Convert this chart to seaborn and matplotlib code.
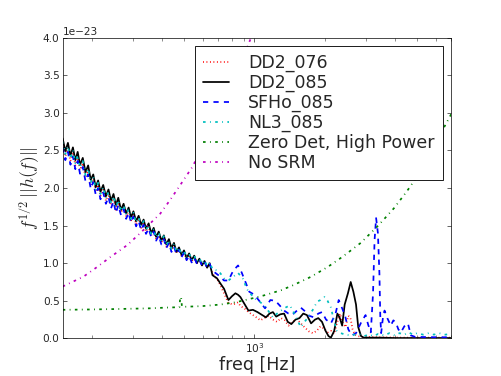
import numpy as np
import seaborn as sns
import matplotlib.pyplot as plt

# shared low-frequency grid (Hz) where all four waveforms overlap
f_low = [150, 154, 158, 162, 166, 170, 174, 178, 183, 188, 193, 198, 203, 208, 213, 218,
         224, 230, 236, 242, 248, 254, 260, 267, 274, 281, 288, 295, 302, 310, 318, 326,
         334, 342, 351, 360, 369, 378, 388, 398, 408, 418, 429, 440, 451, 462, 474, 486,
         498, 511, 524, 537, 551, 565, 580, 595, 610, 626, 642]

dd2_076_low = [2.59, 2.42, 2.53, 2.36, 2.47, 2.30, 2.41, 2.24, 2.33, 2.14, 2.23, 2.04,
               2.12, 1.95, 2.04, 1.89, 1.98, 1.83, 1.92, 1.77, 1.86, 1.71, 1.81,
               1.67, 1.75, 1.62, 1.70, 1.57, 1.65, 1.52, 1.59, 1.47, 1.54, 1.42, 1.49,
               1.37, 1.44, 1.32, 1.39, 1.27, 1.34, 1.22, 1.29, 1.17, 1.24,
               1.13, 1.19, 1.09, 1.15, 1.05, 1.11, 1.02, 1.08,
               1.00, 1.05, 0.97, 1.02, 0.94, 0.99]
dd2_085_low = [2.66, 2.49, 2.60, 2.43, 2.54, 2.37, 2.48, 2.31, 2.40, 2.21, 2.30, 2.11,
               2.18, 2.01, 2.10, 1.95, 2.04, 1.89, 1.98, 1.83, 1.92, 1.77, 1.87,
               1.71, 1.79, 1.66, 1.74, 1.61, 1.69, 1.56, 1.63, 1.51, 1.58, 1.46, 1.53,
               1.40, 1.47, 1.35, 1.42, 1.30, 1.37, 1.25, 1.32, 1.20, 1.27,
               1.15, 1.21, 1.11, 1.17, 1.07, 1.13, 1.04, 1.10,
               1.00, 1.06, 0.97, 1.03, 0.94, 1.00]
sfho_085_low = [2.54, 2.37, 2.48, 2.31, 2.42, 2.25, 2.36, 2.19, 2.28, 2.09, 2.18, 1.99,
                2.08, 1.91, 2.00, 1.85, 1.94, 1.79, 1.88, 1.73, 1.82, 1.67, 1.77,
                1.64, 1.72, 1.59, 1.67, 1.54, 1.62, 1.49, 1.56, 1.44, 1.51, 1.39, 1.46,
                1.35, 1.42, 1.30, 1.37, 1.25, 1.32, 1.20, 1.27, 1.15, 1.22,
                1.12, 1.18, 1.08, 1.14, 1.04, 1.10, 1.01, 1.07,
                1.00, 1.05, 0.97, 1.02, 0.94, 0.99]
nl3_085_low = [2.62, 2.45, 2.56, 2.39, 2.50, 2.33, 2.44, 2.27, 2.36, 2.17, 2.26, 2.07,
               2.15, 1.98, 2.07, 1.92, 2.01, 1.86, 1.95, 1.80, 1.89, 1.74, 1.84,
               1.69, 1.77, 1.64, 1.72, 1.59, 1.67, 1.54, 1.61, 1.49, 1.56, 1.44, 1.51,
               1.39, 1.46, 1.34, 1.41, 1.29, 1.36, 1.24, 1.31, 1.19, 1.26,
               1.15, 1.21, 1.11, 1.17, 1.07, 1.13, 1.04, 1.10,
               1.02, 1.07, 0.99, 1.04, 0.96, 1.01]

# higher frequencies, each waveform on its own grid
f_dd2_076 = [660, 700, 740, 773, 810, 850, 870, 905, 942, 985, 1030, 1060, 1100, 1150, 1200,
             1250, 1300, 1350, 1400, 1460, 1520, 1580, 1650, 1720, 1780, 1850, 1920, 1990,
             2060, 2130, 2200, 2260, 2330, 2400, 2460, 2530, 2580, 2640, 2700, 2780, 2900,
             3100, 3500, 4500, 7000]
dd2_076 = [0.86, 0.76, 0.60, 0.47, 0.45, 0.48, 0.43, 0.40, 0.35, 0.31, 0.27, 0.24, 0.27, 0.30, 0.25,
           0.22, 0.27, 0.24, 0.17, 0.22, 0.26, 0.20, 0.14, 0.09, 0.07, 0.10, 0.16, 0.13,
           0.08, 0.10, 0.06, 0.20, 0.33, 0.20, 0.15, 0.30, 0.28, 0.12, 0.05, 0.03, 0.02,
           0.02, 0.015, 0.01, 0.01]

f_dd2_085 = [660, 690, 714, 740, 773, 800, 828, 850, 870, 905, 942, 985, 1030, 1080, 1120,
             1160, 1200, 1240, 1290, 1340, 1390, 1440, 1500, 1560, 1620, 1680, 1750, 1820,
             1880, 1950, 2020, 2080, 2130, 2200, 2270, 2320, 2380, 2440, 2520, 2590, 2660,
             2730, 2790, 2870, 2950, 3100, 3500, 4000, 5000, 7000]
dd2_085 = [0.84, 0.80, 0.73, 0.66, 0.51, 0.56, 0.60, 0.58, 0.55, 0.46, 0.37, 0.38, 0.35, 0.31, 0.28,
           0.33, 0.35, 0.29, 0.32, 0.33, 0.22, 0.19, 0.25, 0.27, 0.33, 0.31, 0.20, 0.25,
           0.27, 0.22, 0.10, 0.03, 0.01, 0.10, 0.33, 0.28, 0.17, 0.45, 0.60, 0.75, 0.62,
           0.45, 0.15, 0.03, 0.01, 0.01, 0.01, 0.005, 0.005, 0.005]

f_sfho_085 = [660, 700, 740, 773, 810, 850, 880, 920, 950, 1000, 1060, 1110, 1170, 1230, 1290,
              1340, 1400, 1450, 1510, 1580, 1650, 1720, 1800, 1880, 1950, 2030, 2130, 2230,
              2300, 2380, 2450, 2530, 2620, 2730, 2880, 3000, 3080, 3160, 3230, 3280, 3330,
              3390, 3440, 3470, 3500, 3570, 3620, 3720, 3850, 3950, 4050, 4150, 4255, 4400,
              4560, 4700, 4900, 6000, 7000]
sfho_085 = [0.90, 0.84, 0.77, 0.77, 0.90, 0.97, 0.88, 0.73, 0.62, 0.58, 0.48, 0.40, 0.51, 0.50, 0.43,
            0.37, 0.33, 0.31, 0.36, 0.41, 0.36, 0.30, 0.28, 0.33, 0.35, 0.25, 0.20, 0.33,
            0.51, 0.40, 0.30, 0.12, 0.04, 0.07, 0.22, 0.31, 0.18, 0.08, 0.60, 1.31, 1.60,
            1.40, 0.87, 0.30, 0.07, 0.30, 0.37, 0.27, 0.17, 0.24, 0.21, 0.12, 0.08, 0.16,
            0.20, 0.04, 0.02, 0.015, 0.015]

f_nl3_085 = [660, 700, 740, 773, 810, 850, 890, 930, 970, 1020, 1060, 1100, 1150, 1200, 1250,
             1300, 1360, 1420, 1500, 1580, 1640, 1700, 1780, 1860, 1920, 2000, 2060, 2130,
             2200, 2260, 2350, 2450, 2600, 2800, 2950, 3100, 3250, 3400, 3600, 3800, 4000,
             4200, 4400, 4600, 4800, 5000, 5300, 5600, 5900, 6200, 6600, 7000]
nl3_085 = [0.92, 0.90, 0.80, 0.77, 0.82, 0.87, 0.80, 0.65, 0.58, 0.51, 0.48, 0.44, 0.36, 0.28, 0.33,
           0.37, 0.41, 0.44, 0.30, 0.15, 0.22, 0.28, 0.38, 0.49, 0.51, 0.55, 0.50, 0.41,
           0.22, 0.10, 0.07, 0.05, 0.04, 0.06, 0.03, 0.05, 0.03, 0.06, 0.04, 0.07, 0.04,
           0.07, 0.05, 0.08, 0.05, 0.07, 0.05, 0.07, 0.05, 0.07, 0.05, 0.06]

# detector noise curves
f_zero_det = [150, 200, 250, 300, 356, 420, 476, 480, 484, 488, 550, 600, 714, 828, 942,
              1093, 1300, 1473, 1750, 2064, 2400, 2861, 3400, 3970, 4500, 4940, 5700, 6530, 7050]
zero_det = [0.38, 0.385, 0.39, 0.395, 0.40, 0.41, 0.415, 0.55, 0.55, 0.42, 0.425, 0.43, 0.45, 0.48, 0.52,
            0.57, 0.64, 0.71, 0.82, 0.95, 1.09, 1.27, 1.50, 1.73, 1.95, 2.13, 2.45, 2.81, 3.00]

f_no_srm = [150, 184, 211, 240, 284, 323, 394, 434, 480, 541, 600, 700, 800, 942, 1000]
no_srm = [0.69, 0.82, 0.95, 1.08, 1.24, 1.40, 1.66, 1.84, 2.04, 2.28, 2.55, 2.98, 3.38, 3.91, 4.12]

sns.set_style('ticks', {'xtick.direction': 'in', 'ytick.direction': 'in',
                        'axes.edgecolor': 'black'})
plt.rcParams.update({
    'font.family': ['DejaVu Sans'],
    'mathtext.fontset': 'cm',
    'lines.dashed_pattern': [6, 6],
    'lines.dashdot_pattern': [3, 5, 1, 5],
    'lines.dotted_pattern': [1, 3],
    'lines.scale_dashes': False,
    'xtick.top': True, 'ytick.right': True,
    'xtick.major.size': 5, 'xtick.minor.size': 3,
    'ytick.major.size': 5, 'ytick.minor.size': 3,
    'xtick.labelsize': 12, 'ytick.labelsize': 12,
})

fig = plt.figure(figsize=(8, 6), dpi=62.67)
ax = fig.add_subplot(111)
fig.subplots_adjust(left=0.125, right=0.9, bottom=0.1, top=0.9)

series = [
    ('DD2_076', f_low + f_dd2_076, dd2_076_low + dd2_076, 'r', ':'),
    ('DD2_085', f_low + f_dd2_085, dd2_085_low + dd2_085, 'k', '-'),
    ('SFHo_085', f_low + f_sfho_085, sfho_085_low + sfho_085, 'b', '--'),
    ('NL3_085', f_low + f_nl3_085, nl3_085_low + nl3_085, 'c', '-.'),
    ('Zero Det, High Power', f_zero_det, zero_det, 'g', '-.'),
    ('No SRM', f_no_srm, no_srm, 'm', '-.'),
]
for name, f, y, col, ls in series:
    sns.lineplot(x=f, y=np.array(y) * 1e-23, ax=ax, color=col, linestyle=ls, lw=2,
                 label=name, estimator=None, sort=False)

ax.set_xscale('log')
ax.set_xlim(150, 7000)
ax.set_ylim(0, 4e-23)
ax.set_xlabel('freq [Hz]', fontsize=20, labelpad=1)
ax.set_ylabel(r'$f^{1/2}\,||h(f)||$', fontsize=20, labelpad=1)
ax.legend(loc='upper right', fontsize=20, handlelength=1.5, handletextpad=1.1,
          labelspacing=0.1, borderpad=0.45, fancybox=False, framealpha=1,
          edgecolor='black')

fig.savefig('out.png', dpi=62.67)
